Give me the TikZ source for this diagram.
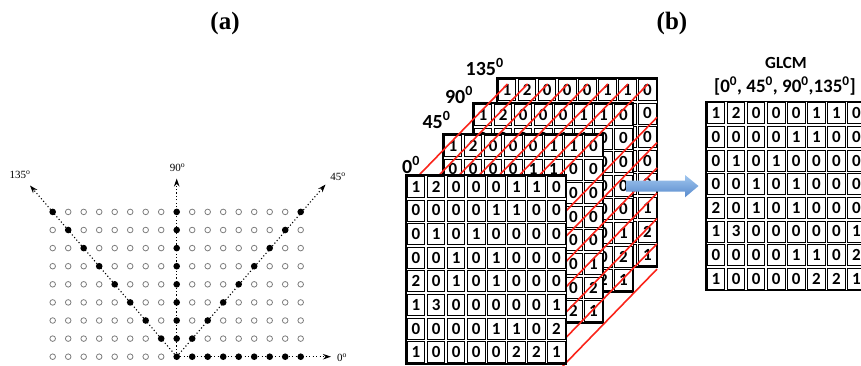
\documentclass[tikz,border=0pt]{standalone}
\usepackage{fontspec}
\setmainfont{Liberation Serif}
\newfontfamily\calibfont{Carlito}
\usetikzlibrary{arrows.meta}
\definecolor{redline}{RGB}{250,36,26}
\definecolor{opengray}{RGB}{125,125,125}
\definecolor{arrowlight}{RGB}{160,198,238}
\definecolor{arrowdark}{RGB}{88,138,205}
\tikzset{
  opendot/.style={circle,draw=opengray,line width=0.8pt,minimum size=5.6pt,inner sep=0pt},
  fulldot/.style={circle,fill=black,minimum size=6.6pt,inner sep=0pt},
  rayline/.style={line width=1.1pt,dash pattern=on 1.1pt off 2.3pt,-{Stealth[length=8pt,width=5.5pt]}},
  anglab/.style={font=\fontsize{11}{11}\selectfont,inner sep=0pt},
  paneltitle/.style={font=\fontsize{25}{25}\selectfont\bfseries,inner sep=0pt},
  cellbox/.style={draw,line width=0.85pt,minimum width=17.4pt,minimum height=21pt,inner sep=0pt,font=\fontsize{17}{17}\selectfont\calibfont\bfseries},
  matframe/.style={draw,fill=white,line width=1.2pt},
  laylab/.style={font=\fontsize{20}{20}\selectfont\calibfont\bfseries,inner sep=0pt},
  cubeline/.style={draw=redline,line width=1.6pt},
  headlab/.style={inner sep=0pt,font=\calibfont\bfseries},
}
\newcommand{\glcmmat}[3]{%
  \draw[matframe] (#2,#3) rectangle ++(160.5,189);
  \foreach \row [count=\r from 0] in {{1,2,0,0,0,1,1,0},{0,0,0,0,1,1,0,0},{0,1,0,1,0,0,0,0},{0,0,1,0,1,0,0,0},{2,0,1,0,1,0,0,0},{1,3,0,0,0,0,0,1},{0,0,0,0,1,1,0,2},{1,0,0,0,0,2,2,1}}{%
    \foreach \v [count=\c from 0] in \row {%
      \node[cellbox] (#1-\r-\c) at ({#2+20.0625*\c+10.03},{#3+23.625*\r+11.81}) {\v};
    }%
  }%
}
\begin{document}
\begin{tikzpicture}[x=1pt,y=-1pt]
\useasboundingbox (0,0) rectangle (861,365);
\clip (0,0) rectangle (861,365);
% titles
\node[paneltitle] (ta) at (225,23) {(a)};
\node[paneltitle] (tb) at (672,23) {(b)};
% ---------- panel (a) ----------
\foreach \i in {0,...,16}{
  \foreach \j in {0,...,8}{
    \pgfmathtruncatemacro\isblack{(\i==8) || ((\j==0) && (\i>7)) || (\i+\j==8) || (\i-\j==8)}
    \ifnum\isblack=1
      \node[fulldot] (d-\i-\j) at ({52.7+15.5*\i},{356.7-18.1*\j}) {};
    \else
      \node[opendot] (d-\i-\j) at ({52.7+15.5*\i},{356.7-18.1*\j}) {};
    \fi
  }
}
\coordinate (tip0) at (331,356.7);
\coordinate (tip90) at (176.7,178.5);
\coordinate (tip45) at (325.5,184.5);
\coordinate (tip135) at (30,185.5);
\draw[rayline] (d-8-0.center) -- (tip0);
\draw[rayline] (d-8-0.center) -- (tip90);
\draw[rayline] (d-8-0.center) -- (tip45);
\draw[rayline] (d-8-0.center) -- (tip135);
\node[anglab] (l0) at (342,358) {0\textsuperscript{o}};
\node[anglab] (l90) at (177.5,168) {90\textsuperscript{o}};
\node[anglab] (l45) at (338,177) {45\textsuperscript{o}};
\node[anglab] (l135) at (20,175) {135\textsuperscript{o}};
% ---------- panel (b) ----------
\glcmmat{L135}{497}{78}
\glcmmat{L90}{473}{103}
\glcmmat{L45}{443}{134}
\foreach \k in {0,...,7}{
  \coordinate (te\k) at ({507.5+20.0625*\k},84);
  \coordinate (ts\k) at ({407.5+20.0625*\k},187);
  \draw[cubeline] (ts\k) -- (te\k);
}
\foreach \k in {1,...,7}{
  \coordinate (re\k) at (657,{92+25.3*\k});
  \coordinate (rs\k) at (557,{195+25.3*\k});
  \draw[cubeline] (rs\k) -- (re\k);
}
\glcmmat{L0}{406}{175}
\node[laylab] (lab135) at (484.7,67) {135\textsuperscript{0}};
\node[laylab] (lab90) at (459,95) {90\textsuperscript{0}};
\node[laylab] (lab45) at (436.5,120) {45\textsuperscript{0}};
\node[laylab] (lab0) at (411,165) {0\textsuperscript{0}};
% arrow
\coordinate (arT) at (626,180.5);
\coordinate (arB) at (626,191.5);
\coordinate (arTip) at (698.5,186);
\shade[top color=arrowlight,bottom color=arrowdark]
  (arT) -- (685,180.5) -- (685,175) -- (arTip) -- (685,197.3) -- (685,191.5) -- (arB) -- cycle;
% GLCM
\glcmmat{G}{706}{101.5}
\node[headlab,font=\fontsize{17}{17}\selectfont\calibfont\bfseries] (gt) at (786,63) {GLCM};
\node[headlab,font=\fontsize{19}{19}\selectfont\calibfont\bfseries] (gs) at (785,86) {[0\textsuperscript{0}, 45\textsuperscript{0}, 90\textsuperscript{0},135\textsuperscript{0}]};
\end{tikzpicture}
\end{document}
